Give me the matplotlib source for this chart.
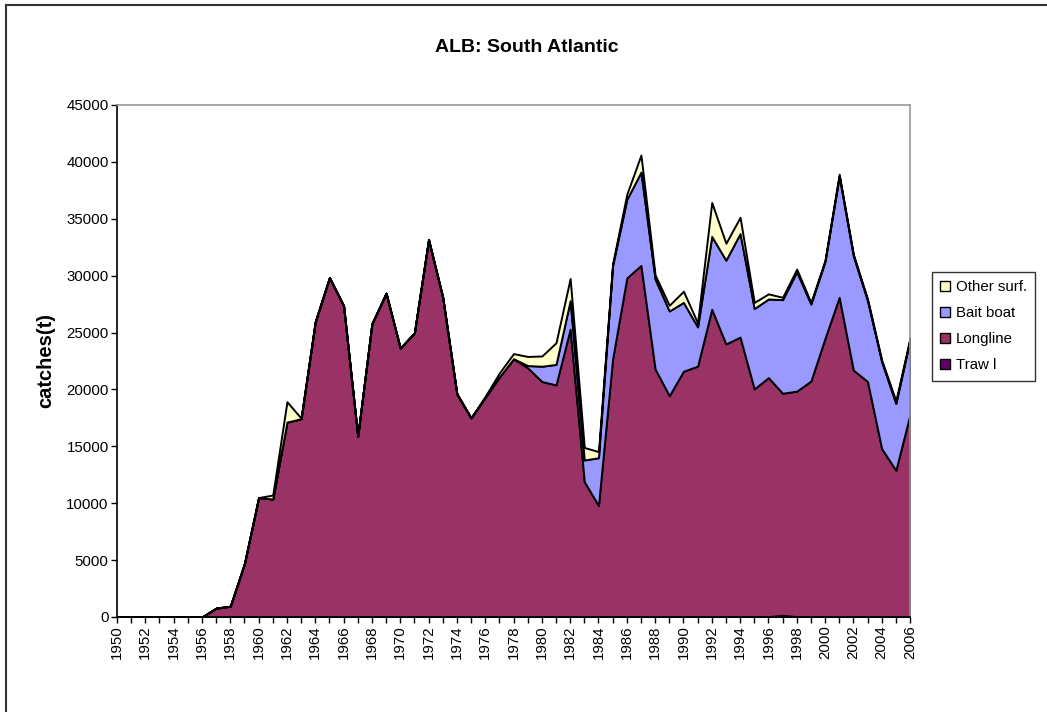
import matplotlib
matplotlib.use("Agg")
import matplotlib.pyplot as plt
from matplotlib.lines import Line2D
from matplotlib.patches import Patch
import numpy as np

years = list(range(1950, 2007))

trawl = [0]*46 + [30, 150, 30] + [0]*8  # 1950..2006

longline_top = [
    0, 0, 0, 0, 0, 0, 0, 780, 950, 4700,          # 1950-1959
    10500, 10370, 17130, 17430, 25950, 29830, 27350, 15880, 25780, 28460,  # 1960-1969
    23630, 24970, 33170, 28100, 19600, 17500, 19300, 21100, 22700, 21900,  # 1970-1979
    20700, 20400, 25300, 11900, 9800, 22700, 29800, 30900, 21800, 19450,   # 1980-1989
    21600, 22050, 27050, 24000, 24600, 20050, 21040, 19670, 19850, 20740,  # 1990-1999
    24500, 28100, 21700, 20700, 14800, 12900, 17800,                       # 2000-2006
]

bait_boat = [0]*29 + [
    200,                                                                   # 1979
    1340, 1800, 2500, 1900, 4200, 8200, 6900, 8200, 7900, 7450,            # 1980-1989
    6050, 3450, 6400, 7360, 9100, 7060, 6910, 8220, 10490, 6760,           # 1990-1999
    6770, 10640, 10040, 7100, 7640, 5870, 6580,                            # 2000-2006
]

other_surf = [
    0, 0, 0, 0, 0, 0, 0, 0, 0, 0,                                          # 1950-1959
    0, 350, 1790, 50, 0, 0, 0, 0, 0, 0,                                    # 1960-1969
    0, 0, 0, 0, 0, 0, 100, 350, 450, 800,                                  # 1970-1979
    900, 1900, 1950, 1100, 540, 150, 450, 1500, 360, 500,                  # 1980-1989
    980, 350, 2980, 1490, 1430, 540, 450, 210, 240, 150,                   # 1990-1999
    90, 180, 150, 150, 150, 240, 150,                                      # 2000-2006
]

longline = [max(l - t, 0) for l, t in zip(longline_top, trawl)]

series_names = ["Traw l", "Longline", "Bait boat", "Other surf."]
colors = ["#660066", "#993366", "#9999FF", "#FFFFCC"]

plt.rcParams['font.family'] = ['Liberation Sans', 'DejaVu Sans']

fig = plt.figure(figsize=(10.47, 7.12), dpi=100)
ax = fig.add_axes([117/1047, 1 - 617/712, (910-117)/1047, (617-105)/712])

ax.stackplot(years, trawl, longline, bait_boat, other_surf,
             colors=colors, edgecolor="black", linewidth=1.4)

ax.set_xlim(1950, 2006)
ax.set_ylim(0, 45000)
ax.set_yticks(range(0, 45001, 5000))
ax.set_yticklabels([str(v) for v in range(0, 45001, 5000)], fontsize=10.8)
ax.set_xticks(years, minor=True)
ax.set_xticks(years[::2])
ax.set_xticklabels([str(y) for y in years[::2]], rotation=90, fontsize=10.8)
ax.tick_params(axis='both', which='both', direction='out', length=4, width=1, pad=2)
ax.tick_params(axis='x', which='minor', length=4)

for s in ['top', 'right']:
    ax.spines[s].set_color('#999999')
    ax.spines[s].set_linewidth(1.2)
for s in ['left', 'bottom']:
    ax.spines[s].set_color('black')
    ax.spines[s].set_linewidth(1.2)

ax.set_ylabel("catches(t)", fontsize=14.5, fontweight='bold', labelpad=8)
fig.text(527/1047, 1 - 48/712, "ALB: South Atlantic", ha='center', va='center',
         fontsize=14, fontweight='bold')

handles = [Patch(facecolor=c, edgecolor='black', linewidth=1) for c in colors][::-1]
labels = series_names[::-1]
leg = fig.legend(handles, labels, loc='upper left',
                 bbox_to_anchor=(932/1047, 1 - 272/712),
                 fontsize=10.8, frameon=True, fancybox=False,
                 handlelength=0.65, handleheight=0.65, handletextpad=0.4,
                 labelspacing=0.8, borderpad=0.55, borderaxespad=0)
leg.get_frame().set_edgecolor('black')
leg.get_frame().set_linewidth(1)

# outer chart border (top and left visible)
fig.add_artist(Line2D([6/1047, 1.0], [1 - 5/712, 1 - 5/712], color='#333333', lw=1.5, transform=fig.transFigure))
fig.add_artist(Line2D([6/1047, 6/1047], [0, 1 - 5/712], color='#333333', lw=1.5, transform=fig.transFigure))

fig.savefig("out.png", dpi=100)
